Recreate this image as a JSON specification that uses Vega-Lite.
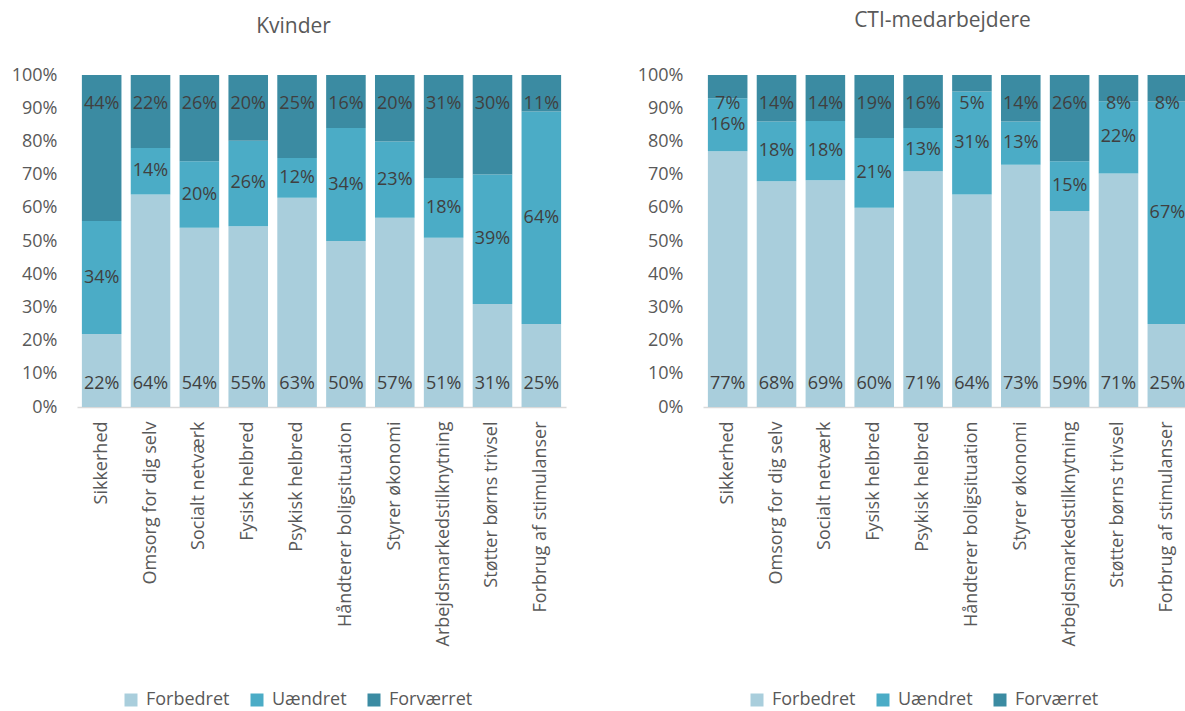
{
  "$schema": "https://vega.github.io/schema/vega-lite/v6.json",
  "padding": {"left": 10, "top": 9, "right": 0, "bottom": 0},
  "spacing": 70,
  "datasets": {
    "d": [
      {"p": "K", "item": "Sikkerhed", "cat": "Forbedret", "k": 1, "v": 0.22},
      {"p": "K", "item": "Sikkerhed", "cat": "Uændret", "k": 2, "v": 0.34},
      {"p": "K", "item": "Sikkerhed", "cat": "Forværret", "k": 3, "v": 0.44},
      {"p": "K", "item": "Omsorg for dig selv", "cat": "Forbedret", "k": 1, "v": 0.64},
      {"p": "K", "item": "Omsorg for dig selv", "cat": "Uændret", "k": 2, "v": 0.14},
      {"p": "K", "item": "Omsorg for dig selv", "cat": "Forværret", "k": 3, "v": 0.22},
      {"p": "K", "item": "Socialt netværk", "cat": "Forbedret", "k": 1, "v": 0.54},
      {"p": "K", "item": "Socialt netværk", "cat": "Uændret", "k": 2, "v": 0.20},
      {"p": "K", "item": "Socialt netværk", "cat": "Forværret", "k": 3, "v": 0.26},
      {"p": "K", "item": "Fysisk helbred", "cat": "Forbedret", "k": 1, "v": 0.55},
      {"p": "K", "item": "Fysisk helbred", "cat": "Uændret", "k": 2, "v": 0.26},
      {"p": "K", "item": "Fysisk helbred", "cat": "Forværret", "k": 3, "v": 0.20},
      {"p": "K", "item": "Psykisk helbred", "cat": "Forbedret", "k": 1, "v": 0.63},
      {"p": "K", "item": "Psykisk helbred", "cat": "Uændret", "k": 2, "v": 0.12},
      {"p": "K", "item": "Psykisk helbred", "cat": "Forværret", "k": 3, "v": 0.25},
      {"p": "K", "item": "Håndterer boligsituation", "cat": "Forbedret", "k": 1, "v": 0.50},
      {"p": "K", "item": "Håndterer boligsituation", "cat": "Uændret", "k": 2, "v": 0.34},
      {"p": "K", "item": "Håndterer boligsituation", "cat": "Forværret", "k": 3, "v": 0.16},
      {"p": "K", "item": "Styrer økonomi", "cat": "Forbedret", "k": 1, "v": 0.57},
      {"p": "K", "item": "Styrer økonomi", "cat": "Uændret", "k": 2, "v": 0.23},
      {"p": "K", "item": "Styrer økonomi", "cat": "Forværret", "k": 3, "v": 0.20},
      {"p": "K", "item": "Arbejdsmarkedstilknytning", "cat": "Forbedret", "k": 1, "v": 0.51},
      {"p": "K", "item": "Arbejdsmarkedstilknytning", "cat": "Uændret", "k": 2, "v": 0.18},
      {"p": "K", "item": "Arbejdsmarkedstilknytning", "cat": "Forværret", "k": 3, "v": 0.31},
      {"p": "K", "item": "Støtter børns trivsel", "cat": "Forbedret", "k": 1, "v": 0.31},
      {"p": "K", "item": "Støtter børns trivsel", "cat": "Uændret", "k": 2, "v": 0.39},
      {"p": "K", "item": "Støtter børns trivsel", "cat": "Forværret", "k": 3, "v": 0.30},
      {"p": "K", "item": "Forbrug af stimulanser", "cat": "Forbedret", "k": 1, "v": 0.25},
      {"p": "K", "item": "Forbrug af stimulanser", "cat": "Uændret", "k": 2, "v": 0.64},
      {"p": "K", "item": "Forbrug af stimulanser", "cat": "Forværret", "k": 3, "v": 0.11},
      {"p": "C", "item": "Sikkerhed", "cat": "Forbedret", "k": 1, "v": 0.77},
      {"p": "C", "item": "Sikkerhed", "cat": "Uændret", "k": 2, "v": 0.16},
      {"p": "C", "item": "Sikkerhed", "cat": "Forværret", "k": 3, "v": 0.07},
      {"p": "C", "item": "Omsorg for dig selv", "cat": "Forbedret", "k": 1, "v": 0.68},
      {"p": "C", "item": "Omsorg for dig selv", "cat": "Uændret", "k": 2, "v": 0.18},
      {"p": "C", "item": "Omsorg for dig selv", "cat": "Forværret", "k": 3, "v": 0.14},
      {"p": "C", "item": "Socialt netværk", "cat": "Forbedret", "k": 1, "v": 0.69},
      {"p": "C", "item": "Socialt netværk", "cat": "Uændret", "k": 2, "v": 0.18},
      {"p": "C", "item": "Socialt netværk", "cat": "Forværret", "k": 3, "v": 0.14},
      {"p": "C", "item": "Fysisk helbred", "cat": "Forbedret", "k": 1, "v": 0.60},
      {"p": "C", "item": "Fysisk helbred", "cat": "Uændret", "k": 2, "v": 0.21},
      {"p": "C", "item": "Fysisk helbred", "cat": "Forværret", "k": 3, "v": 0.19},
      {"p": "C", "item": "Psykisk helbred", "cat": "Forbedret", "k": 1, "v": 0.71},
      {"p": "C", "item": "Psykisk helbred", "cat": "Uændret", "k": 2, "v": 0.13},
      {"p": "C", "item": "Psykisk helbred", "cat": "Forværret", "k": 3, "v": 0.16},
      {"p": "C", "item": "Håndterer boligsituation", "cat": "Forbedret", "k": 1, "v": 0.64},
      {"p": "C", "item": "Håndterer boligsituation", "cat": "Uændret", "k": 2, "v": 0.31},
      {"p": "C", "item": "Håndterer boligsituation", "cat": "Forværret", "k": 3, "v": 0.05},
      {"p": "C", "item": "Styrer økonomi", "cat": "Forbedret", "k": 1, "v": 0.73},
      {"p": "C", "item": "Styrer økonomi", "cat": "Uændret", "k": 2, "v": 0.13},
      {"p": "C", "item": "Styrer økonomi", "cat": "Forværret", "k": 3, "v": 0.14},
      {"p": "C", "item": "Arbejdsmarkedstilknytning", "cat": "Forbedret", "k": 1, "v": 0.59},
      {"p": "C", "item": "Arbejdsmarkedstilknytning", "cat": "Uændret", "k": 2, "v": 0.15},
      {"p": "C", "item": "Arbejdsmarkedstilknytning", "cat": "Forværret", "k": 3, "v": 0.26},
      {"p": "C", "item": "Støtter børns trivsel", "cat": "Forbedret", "k": 1, "v": 0.71},
      {"p": "C", "item": "Støtter børns trivsel", "cat": "Uændret", "k": 2, "v": 0.22},
      {"p": "C", "item": "Støtter børns trivsel", "cat": "Forværret", "k": 3, "v": 0.08},
      {"p": "C", "item": "Forbrug af stimulanser", "cat": "Forbedret", "k": 1, "v": 0.25},
      {"p": "C", "item": "Forbrug af stimulanser", "cat": "Uændret", "k": 2, "v": 0.67},
      {"p": "C", "item": "Forbrug af stimulanser", "cat": "Forværret", "k": 3, "v": 0.08}
    ]
  },
  "hconcat": [
    {
      "data": {"name": "d"},
      "transform": [{"filter": "datum.p === 'K'"}],
      "width": 489,
      "height": 332,
      "title": {"text": "Kvinder", "dx": -28},
      "encoding": {
        "x": {
          "field": "item", "type": "nominal",
          "sort": ["Sikkerhed", "Omsorg for dig selv", "Socialt netværk", "Fysisk helbred", "Psykisk helbred", "Håndterer boligsituation", "Styrer økonomi", "Arbejdsmarkedstilknytning", "Støtter børns trivsel", "Forbrug af stimulanser"],
          "scale": {"paddingInner": 0.19, "paddingOuter": 0.1},
          "axis": {"labelAngle": -90, "domainColor": "#D9D9D9", "domainWidth": 1.5, "labelPadding": 14, "labelLimit": 400, "title": null}
        },
        "order": {"field": "k", "type": "quantitative"}
      },
      "layer": [
        {
          "mark": {"type": "bar"},
          "encoding": {
            "y": {"field": "v", "type": "quantitative", "stack": "normalize", "scale": {"domain": [0, 1]},
              "axis": {"values": [0, 0.1, 0.2, 0.3, 0.4, 0.5, 0.6, 0.7, 0.8, 0.9, 1], "format": ".0%", "domain": false, "labelPadding": 20, "labelOverlap": false, "minExtent": 67, "maxExtent": 67, "title": null}},
            "color": {"field": "cat", "type": "nominal",
              "scale": {"domain": ["Forbedret", "Uændret", "Forværret"], "range": ["#A9CEDC", "#4BACC6", "#3B8BA2"]},
              "legend": {"orient": "none", "legendX": 45, "legendY": 616}}
          }
        },
        {
          "mark": {"type": "text", "dy": -23},
          "encoding": {
            "y": {"field": "v", "type": "quantitative", "stack": "normalize", "bandPosition": 0,
              "axis": {"values": [0, 0.1, 0.2, 0.3, 0.4, 0.5, 0.6, 0.7, 0.8, 0.9, 1], "format": ".0%", "domain": false, "labelPadding": 20, "labelOverlap": false, "minExtent": 67, "maxExtent": 67, "title": null}},
            "text": {"condition": {"test": "datum.cat === 'Forbedret'", "field": "v", "type": "quantitative", "format": ".0%"}, "value": ""}
          }
        },
        {
          "mark": {"type": "text"},
          "encoding": {
            "y": {"field": "v", "type": "quantitative", "stack": "normalize", "bandPosition": 0.5,
              "axis": {"values": [0, 0.1, 0.2, 0.3, 0.4, 0.5, 0.6, 0.7, 0.8, 0.9, 1], "format": ".0%", "domain": false, "labelPadding": 20, "labelOverlap": false, "minExtent": 67, "maxExtent": 67, "title": null}},
            "text": {"condition": {"test": "datum.cat === 'Uændret'", "field": "v", "type": "quantitative", "format": ".0%"}, "value": ""}
          }
        },
        {
          "mark": {"type": "text", "dy": 29},
          "encoding": {
            "y": {"field": "v", "type": "quantitative", "stack": "normalize", "bandPosition": 1,
              "axis": {"values": [0, 0.1, 0.2, 0.3, 0.4, 0.5, 0.6, 0.7, 0.8, 0.9, 1], "format": ".0%", "domain": false, "labelPadding": 20, "labelOverlap": false, "minExtent": 67, "maxExtent": 67, "title": null}},
            "text": {"condition": {"test": "datum.cat === 'Forværret'", "field": "v", "type": "quantitative", "format": ".0%"}, "value": ""}
          }
        }
      ]
    },
    {
      "data": {"name": "d"},
      "transform": [{"filter": "datum.p === 'C'"}],
      "width": 489,
      "height": 332,
      "title": {"text": "CTI-medarbejdere", "dx": -5},
      "encoding": {
        "x": {
          "field": "item", "type": "nominal",
          "sort": ["Sikkerhed", "Omsorg for dig selv", "Socialt netværk", "Fysisk helbred", "Psykisk helbred", "Håndterer boligsituation", "Styrer økonomi", "Arbejdsmarkedstilknytning", "Støtter børns trivsel", "Forbrug af stimulanser"],
          "scale": {"paddingInner": 0.19, "paddingOuter": 0.1},
          "axis": {"labelAngle": -90, "domainColor": "#D9D9D9", "domainWidth": 1.5, "labelPadding": 14, "labelLimit": 400, "title": null}
        },
        "order": {"field": "k", "type": "quantitative"}
      },
      "layer": [
        {
          "mark": {"type": "bar"},
          "encoding": {
            "y": {"field": "v", "type": "quantitative", "stack": "normalize", "scale": {"domain": [0, 1]},
              "axis": {"values": [0, 0.1, 0.2, 0.3, 0.4, 0.5, 0.6, 0.7, 0.8, 0.9, 1], "format": ".0%", "domain": false, "labelPadding": 20, "labelOverlap": false, "minExtent": 67, "maxExtent": 67, "title": null}},
            "color": {"field": "cat", "type": "nominal",
              "scale": {"domain": ["Forbedret", "Uændret", "Forværret"], "range": ["#A9CEDC", "#4BACC6", "#3B8BA2"]},
              "legend": {"orient": "none", "legendX": 45, "legendY": 616}}
          }
        },
        {
          "mark": {"type": "text", "dy": -23},
          "encoding": {
            "y": {"field": "v", "type": "quantitative", "stack": "normalize", "bandPosition": 0,
              "axis": {"values": [0, 0.1, 0.2, 0.3, 0.4, 0.5, 0.6, 0.7, 0.8, 0.9, 1], "format": ".0%", "domain": false, "labelPadding": 20, "labelOverlap": false, "minExtent": 67, "maxExtent": 67, "title": null}},
            "text": {"condition": {"test": "datum.cat === 'Forbedret'", "field": "v", "type": "quantitative", "format": ".0%"}, "value": ""}
          }
        },
        {
          "mark": {"type": "text"},
          "encoding": {
            "y": {"field": "v", "type": "quantitative", "stack": "normalize", "bandPosition": 0.5,
              "axis": {"values": [0, 0.1, 0.2, 0.3, 0.4, 0.5, 0.6, 0.7, 0.8, 0.9, 1], "format": ".0%", "domain": false, "labelPadding": 20, "labelOverlap": false, "minExtent": 67, "maxExtent": 67, "title": null}},
            "text": {"condition": {"test": "datum.cat === 'Uændret'", "field": "v", "type": "quantitative", "format": ".0%"}, "value": ""}
          }
        },
        {
          "mark": {"type": "text", "dy": 29},
          "encoding": {
            "y": {"field": "v", "type": "quantitative", "stack": "normalize", "bandPosition": 1,
              "axis": {"values": [0, 0.1, 0.2, 0.3, 0.4, 0.5, 0.6, 0.7, 0.8, 0.9, 1], "format": ".0%", "domain": false, "labelPadding": 20, "labelOverlap": false, "minExtent": 67, "maxExtent": 67, "title": null}},
            "text": {"condition": {"test": "datum.cat === 'Forværret'", "field": "v", "type": "quantitative", "format": ".0%"}, "value": ""}
          }
        }
      ]
    }
  ],
  "resolve": {"scale": {"color": "independent"}, "legend": {"color": "independent"}},
  "config": {
    "font": "Open Sans",
    "view": {"stroke": null},
    "axis": {"labelFont": "Open Sans", "labelFontSize": 18, "labelColor": "#595959", "ticks": false, "tickSize": 0, "grid": false},
    "axisY": {"labelOverlap": false},
    "text": {"font": "Open Sans", "fontSize": 18, "color": "#404040", "baseline": "middle"},
    "legend": {"direction": "horizontal", "title": null, "symbolType": "square", "symbolSize": 169, "symbolStrokeWidth": 0, "labelFont": "Open Sans", "labelFontSize": 18, "labelColor": "#595959", "columnPadding": 18, "labelOffset": 6, "padding": 0},
    "title": {"font": "Open Sans", "fontSize": 21, "fontWeight": "normal", "color": "#595959", "frame": "group", "anchor": "middle", "offset": 29}
  }
}
